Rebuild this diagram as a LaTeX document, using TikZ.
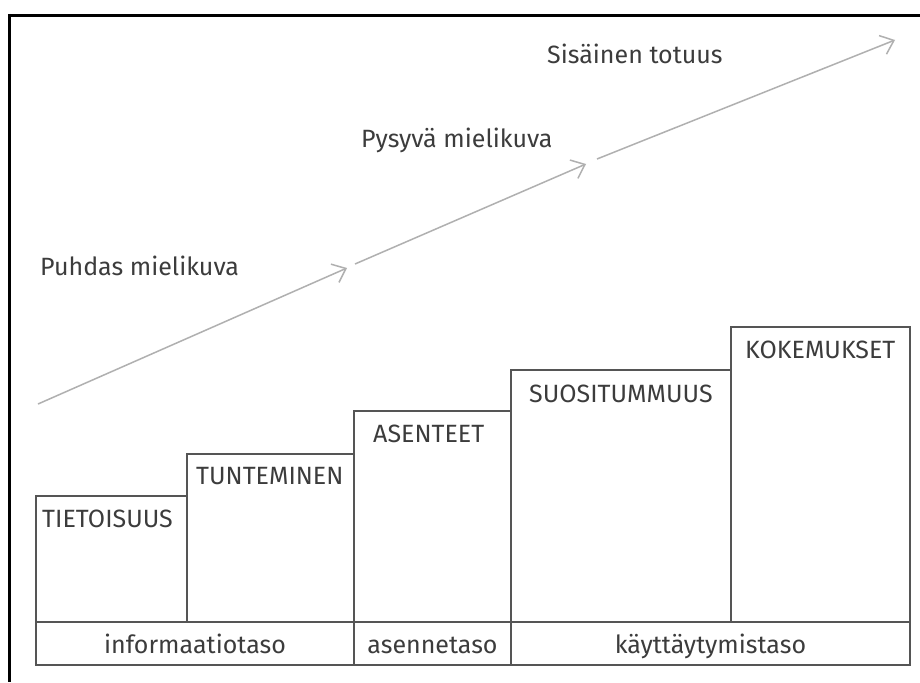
\documentclass[tikz,border=0pt]{standalone}
\usepackage{fontspec}
\setmainfont{Fira Sans}
\usetikzlibrary{arrows.meta}
\definecolor{txt}{HTML}{3C3C3C}
\definecolor{boxline}{HTML}{555555}
\definecolor{arr}{HTML}{B0B0B0}
\begin{document}
\begin{tikzpicture}[x=1pt,y=-1pt,
  lbl/.style={font=\fontsize{25}{28}\selectfont, text=txt, inner sep=0pt, anchor=base west},
  lvl/.style={font=\fontsize{25}{28}\selectfont, text=txt, inner sep=0pt, anchor=base},
  col/.style={draw=boxline, line width=2pt, anchor=north west, inner sep=0pt, outer sep=0pt},
  arrline/.style={draw=arr, line width=1.5pt, -{Straight Barb[length=12pt,width=20pt,line width=1.5pt]}},
  frameline/.style={line width=3pt, black}
]
\useasboundingbox (0,0) rectangle (920,682);
\fill[white] (0,0) rectangle (920,682);
% frame
\coordinate (ftr) at (920,15.5);
\coordinate (ftl) at (8,15.5);
\coordinate (fbl) at (9.5,682);
\draw[frameline] (ftr) -- (ftl);
\draw[frameline] (9.5,14) -- (fbl);

% columns
\node[col, minimum width=151pt, minimum height=126pt] (c1) at (36,496) {};
\node[col, minimum width=167pt, minimum height=168pt] (c2) at (187,454) {};
\node[col, minimum width=157pt, minimum height=211pt] (c3) at (354,411) {};
\node[col, minimum width=220pt, minimum height=252pt] (c4) at (511,370) {};
\node[col, minimum width=179pt, minimum height=295pt] (c5) at (731,327) {};

% bottom row
\node[col, minimum width=318pt, minimum height=43pt] (r1) at (36,622) {};
\node[col, minimum width=157pt, minimum height=43pt] (r2) at (354,622) {};
\node[col, minimum width=399pt, minimum height=43pt] (r3) at (511,622) {};

% column labels
\node[lbl] (t1) at (42,527) {TIETOISUUS};
\node[lbl] (t2) at (196,484) {TUNTEMINEN};
\node[lbl] (t3) at (373,442) {ASENTEET};
\node[lbl] (t4) at (529,402) {SUOSITUMMUUS};
\node[lbl] (t5) at (745,358) {KOKEMUKSET};

% level labels
\node[lvl] (l1) at (195,653) {informaatiotaso};
\node[lvl] (l2) at (432.5,653) {asennetaso};
\node[lvl] (l3) at (710.5,653) {käyttäytymistaso};

% arrow labels
\node[lbl] (a1) at (40,275) {Puhdas mielikuva};
\node[lbl] (a2) at (361,147) {Pysyvä mielikuva};
\node[lbl] (a3) at (547,64) {Sisäinen totuus};

% arrows
\coordinate (p0) at (38,404);
\coordinate (p1) at (347,268);
\coordinate (p2) at (355,264);
\coordinate (p3) at (586,164);
\coordinate (p4) at (597,159);
\coordinate (p5) at (895,40);
\draw[arrline] (p0) -- (p1);
\draw[arrline] (p2) -- (p3);
\draw[arrline] (p4) -- (p5);
\end{tikzpicture}
\end{document}
